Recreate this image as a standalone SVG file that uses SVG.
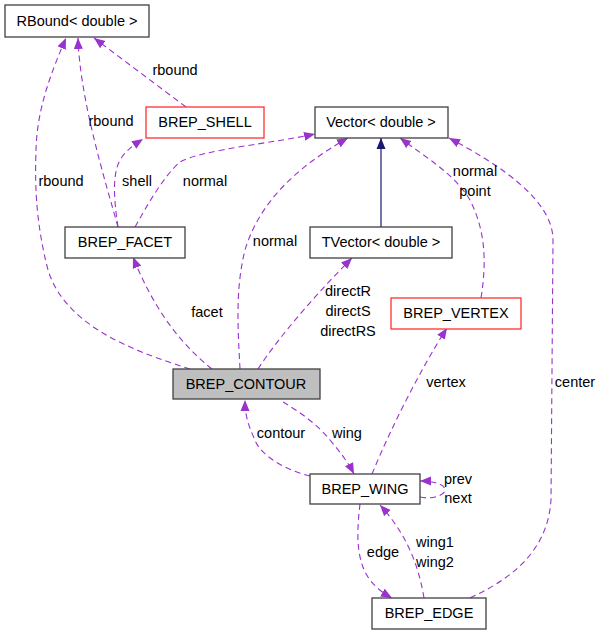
<svg xmlns="http://www.w3.org/2000/svg" width="601" height="635" viewBox="0 0 601 635">
<style>
text{font-family:"Liberation Sans",Arial,sans-serif;font-size:14.5px;fill:#000;text-anchor:middle}
.box{fill:#fff;stroke:#404040;stroke-width:1.3}
.red{fill:#fff;stroke:#ff3030;stroke-width:1.3}
.gray{fill:#bfbfbf;stroke:#404040;stroke-width:1.3}
.e{fill:none;stroke:#9a32cd;stroke-width:1.1;stroke-dasharray:6,4;marker-end:url(#a)}
.s{fill:none;stroke:#191970;stroke-width:1.2;marker-end:url(#n)}
</style>
<defs>
<marker id="a" markerWidth="12" markerHeight="10" refX="11" refY="5" orient="auto" markerUnits="userSpaceOnUse"><path d="M0,0.5 L11,5 L0,9.5 z" fill="#9a32cd"/></marker>
<marker id="n" markerWidth="12" markerHeight="10" refX="11" refY="5" orient="auto" markerUnits="userSpaceOnUse"><path d="M0,0.5 L11,5 L0,9.5 z" fill="#191970"/></marker>
</defs>
<g id="connectors">
<path class="e" d="M190,369 C130,350 65,325 48,270 C35,220 35,180 36,150 C37,110 50,75 66,38"/>
<path class="e" d="M118,227 C105,180 80,100 78,38"/>
<path class="e" d="M186,107 L94,38"/>
<path class="e" d="M118,227 C114,200 112,175 120,160 C126,150 134,145 143,139"/>
<path class="e" d="M135,227 C150,200 165,175 180,162 C200,150 280,142 315,134"/>
<path class="e" d="M240,369 C238,330 235,290 245,250 C260,200 300,165 348,138"/>
<path class="s" d="M381,227 L381,138"/>
<path class="e" d="M258,369 C280,335 320,290 352,258"/>
<path class="e" d="M212,369 C175,340 150,300 133,257"/>
<path class="e" d="M481,298 C487,260 485,230 470,200 C455,175 430,160 400,138"/>
<path class="e" d="M470,598 C520,575 548,545 551,500 L553,240 C553,200 500,165 449,138"/>
<path class="e" d="M372,474 C390,430 420,370 447,328"/>
<path class="e" d="M283,402 C300,412 318,425 330,440 C340,452 348,462 354,474"/>
<path class="e" d="M310,476 C285,470 260,455 255,440 C248,425 245,415 245,400"/>
<path class="e" d="M420,497 C432,500 445,495 445,490 C445,484 432,481 420,481"/>
<path class="e" d="M360,504 C357,530 355,560 370,580 C378,590 385,594 392,598"/>
<path class="e" d="M424,598 C420,575 412,540 380,505"/>
<text x="61" y="186">rbound</text>
<text x="111" y="126">rbound</text>
<text x="175" y="75">rbound</text>
<text x="137" y="186">shell</text>
<text x="205" y="186">normal</text>
<text x="275" y="246">normal</text>
<text x="348" y="296">directR</text>
<text x="348" y="316">directS</text>
<text x="348" y="336">directRS</text>
<text x="207" y="317">facet</text>
<text x="475" y="176">normal</text>
<text x="475" y="196">point</text>
<text x="575" y="387">center</text>
<text x="446" y="387">vertex</text>
<text x="347" y="438">wing</text>
<text x="281" y="438">contour</text>
<text x="458" y="484">prev</text>
<text x="458" y="503">next</text>
<text x="383" y="557">edge</text>
<text x="435" y="547">wing1</text>
<text x="435" y="567">wing2</text>
</g>
<g id="RBound"><rect class="box" x="5" y="5" width="144" height="32"/><text x="77" y="26">RBound&lt; double &gt;</text></g>
<g id="BREP_SHELL"><rect class="red" x="146" y="107" width="118" height="31"/><text x="205" y="127">BREP_SHELL</text></g>
<g id="Vector"><rect class="box" x="315" y="107" width="133" height="31"/><text x="381" y="127">Vector&lt; double &gt;</text></g>
<g id="TVector"><rect class="box" x="310" y="227" width="142" height="31"/><text x="381" y="247">TVector&lt; double &gt;</text></g>
<g id="BREP_FACET"><rect class="box" x="65" y="227" width="120" height="31"/><text x="125" y="247">BREP_FACET</text></g>
<g id="BREP_VERTEX"><rect class="red" x="391" y="298" width="130" height="31"/><text x="456" y="318">BREP_VERTEX</text></g>
<g id="BREP_CONTOUR"><rect class="gray" x="173" y="369" width="147" height="30"/><text x="246" y="389">BREP_CONTOUR</text></g>
<g id="BREP_WING"><rect class="box" x="310" y="474" width="110" height="30"/><text x="365" y="494">BREP_WING</text></g>
<g id="BREP_EDGE"><rect class="box" x="372" y="598" width="114" height="31"/><text x="429" y="618">BREP_EDGE</text></g>
</svg>
